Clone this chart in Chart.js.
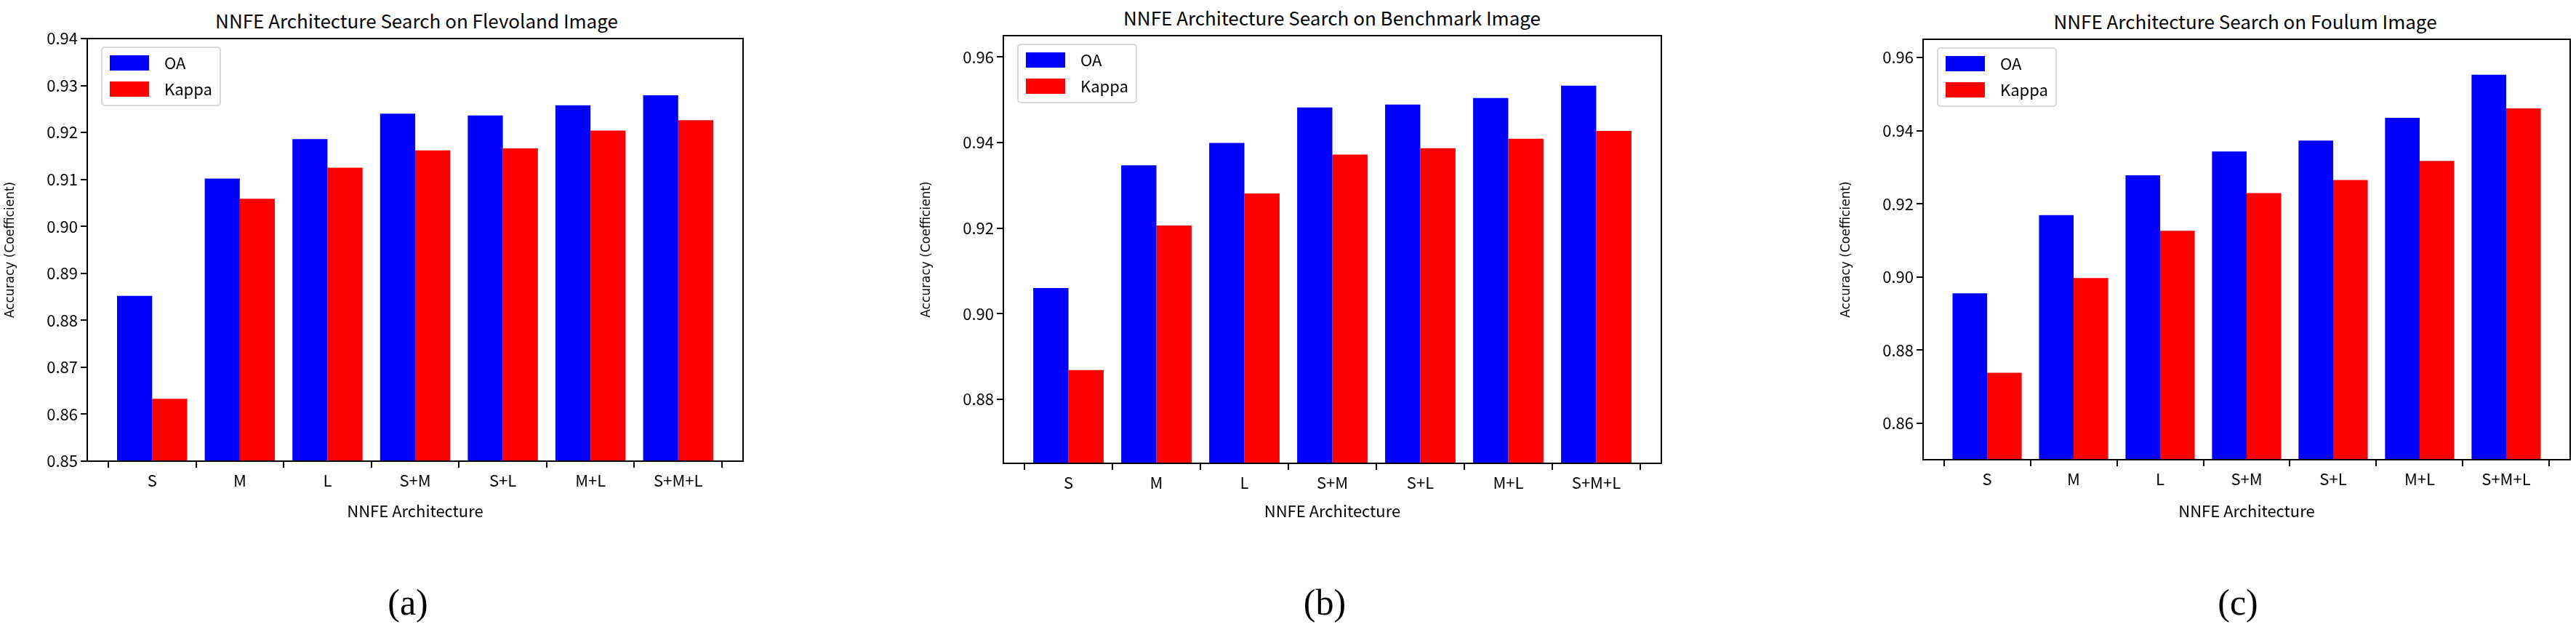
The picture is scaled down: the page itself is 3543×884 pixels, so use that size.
<!DOCTYPE html>
<html><head><meta charset="utf-8">
<script src="https://cdn.jsdelivr.net/npm/chart.js@4.4.1/dist/chart.umd.min.js"></script>
<style>
body{margin:0;background:#fff;width:3543px;height:884px;position:relative;overflow:hidden}
.c{position:absolute;top:0}
.t{position:absolute;font-family:"Noto Sans CJK SC";font-size:26px;color:#000;transform:translate(-50%,-50%);white-space:nowrap}
.l{position:absolute;font-family:"Liberation Serif";font-size:50px;color:#000;transform:translate(-50%,-50%)}
</style></head><body>
<div class="t" style="left:573px;top:27px">NNFE Architecture Search on Flevoland Image</div>
<div class="t" style="left:1832px;top:23px">NNFE Architecture Search on Benchmark Image</div>
<div class="t" style="left:3088px;top:28px">NNFE Architecture Search on Foulum Image</div>
<div class="l" style="left:561px;top:828px">(a)</div>
<div class="l" style="left:1822px;top:828px">(b)</div>
<div class="l" style="left:3078px;top:828px">(c)</div>
<div class="c" style="left:0px"><canvas id="a" width="1040" height="720"></canvas></div>
<div class="c" style="left:1260px"><canvas id="b" width="1040" height="720"></canvas></div>
<div class="c" style="left:2525px"><canvas id="c" width="1018" height="720"></canvas></div>
<script>
const categories = ["S","M","L","S+M","S+L","M+L","S+M+L"];
const oaA = [0.8852,0.9102,0.9186,0.9240,0.9236,0.9258,0.9279];
const kappaA = [0.8633,0.9059,0.9125,0.9162,0.9166,0.9204,0.9226];
const oaB = [0.9060,0.9347,0.9399,0.9482,0.9489,0.9504,0.9533];
const kappaB = [0.8868,0.9206,0.9281,0.9372,0.9387,0.9409,0.9427];
const oaC = [0.8955,0.9169,0.9278,0.9343,0.9373,0.9435,0.9553];
const kappaC = [0.8738,0.8997,0.9126,0.9229,0.9265,0.9317,0.9461];
const ticksA = [0.85,0.86,0.87,0.88,0.89,0.90,0.91,0.92,0.93,0.94];
const ticksB = [0.88,0.90,0.92,0.94,0.96];
const ticksC = [0.86,0.88,0.90,0.92,0.94,0.96];

const FONT = "Noto Sans CJK SC";
const boxPlugin = {
  id:'box',
  afterDraw(chart){
    const {ctx, chartArea:a} = chart;
    ctx.save();
    ctx.strokeStyle='#000'; ctx.lineWidth=2;
    ctx.strokeRect(a.left,a.top,a.right-a.left,a.bottom-a.top);
    // legend
    const x=a.left+20, y=a.top+12;
    ctx.strokeStyle='#d8d8d8'; ctx.lineWidth=2; ctx.fillStyle='rgba(255,255,255,0.8)';
    ctx.beginPath(); ctx.roundRect(x,y,163,80,4); ctx.fill(); ctx.stroke();
    chart.data.datasets.forEach((ds,i)=>{
      const yy=y+11+i*36;
      ctx.fillStyle=ds.backgroundColor; ctx.fillRect(x+11,yy,54,21);
      ctx.fillStyle='#000'; ctx.font='22px "'+FONT+'"'; ctx.textBaseline='middle';
      ctx.fillText(ds.label,x+86,yy+11);
    });
    ctx.restore();
  }
};

function make(id, oa, kappa, ymin, ymax, yticks, top, bottom, rightPad){
  const H=720;
  new Chart(document.getElementById(id),{
    type:'bar',
    data:{datasets:[
      {label:'OA',backgroundColor:'#0000ff',data:oa.map((v,i)=>({x:i,y:v}))},
      {label:'Kappa',backgroundColor:'#ff0000',data:kappa.map((v,i)=>({x:i,y:v}))}
    ]},
    options:{
      responsive:false,animation:false,
      layout:{padding:{top:top,right:rightPad,left:0,bottom:0}},
      plugins:{legend:{display:false},tooltip:{enabled:false}},
      datasets:{bar:{categoryPercentage:0.8,barPercentage:1.0,grouped:true}},
      scales:{
        x:{type:'linear',min:-0.74,max:6.74,offset:false,
          afterBuildTicks(s){s.ticks=categories.map((c,i)=>({value:i}));},
          afterFit(s){s.height=H-bottom;},
          ticks:{callback:(v)=>categories[v],color:'#000',font:{family:FONT,size:22},padding:4,maxRotation:0,autoSkip:false},
          grid:{display:true,drawOnChartArea:false,tickLength:9,color:'#000',lineWidth:2},
          border:{display:false},
          title:{display:true,text:'NNFE Architecture',color:'#000',font:{family:FONT,size:22},padding:{top:0}}
        },
        y:{min:ymin,max:ymax,
          afterBuildTicks(s){s.ticks=yticks.map(v=>({value:v}));},
          afterFit(s){s.width=120;},
          ticks:{callback:(v)=>v.toFixed(2),color:'#000',font:{family:FONT,size:22},padding:4},
          grid:{display:true,drawOnChartArea:false,tickLength:9,color:'#000',lineWidth:2},
          border:{display:false},
          title:{display:true,text:'Accuracy (Coefficient)',color:'#000',font:{family:'DejaVu Sans',size:17},padding:{bottom:4}}
        }
      }
    },
    plugins:[boxPlugin]
  });
}
make('a',oaA,kappaA,0.85,0.94,ticksA,53,634,18);
make('b',oaB,kappaB,0.865,0.965,ticksB,49,637,15);
make('c',oaC,kappaC,0.85,0.965,ticksC,54,632,8);
</script>
</body></html>
